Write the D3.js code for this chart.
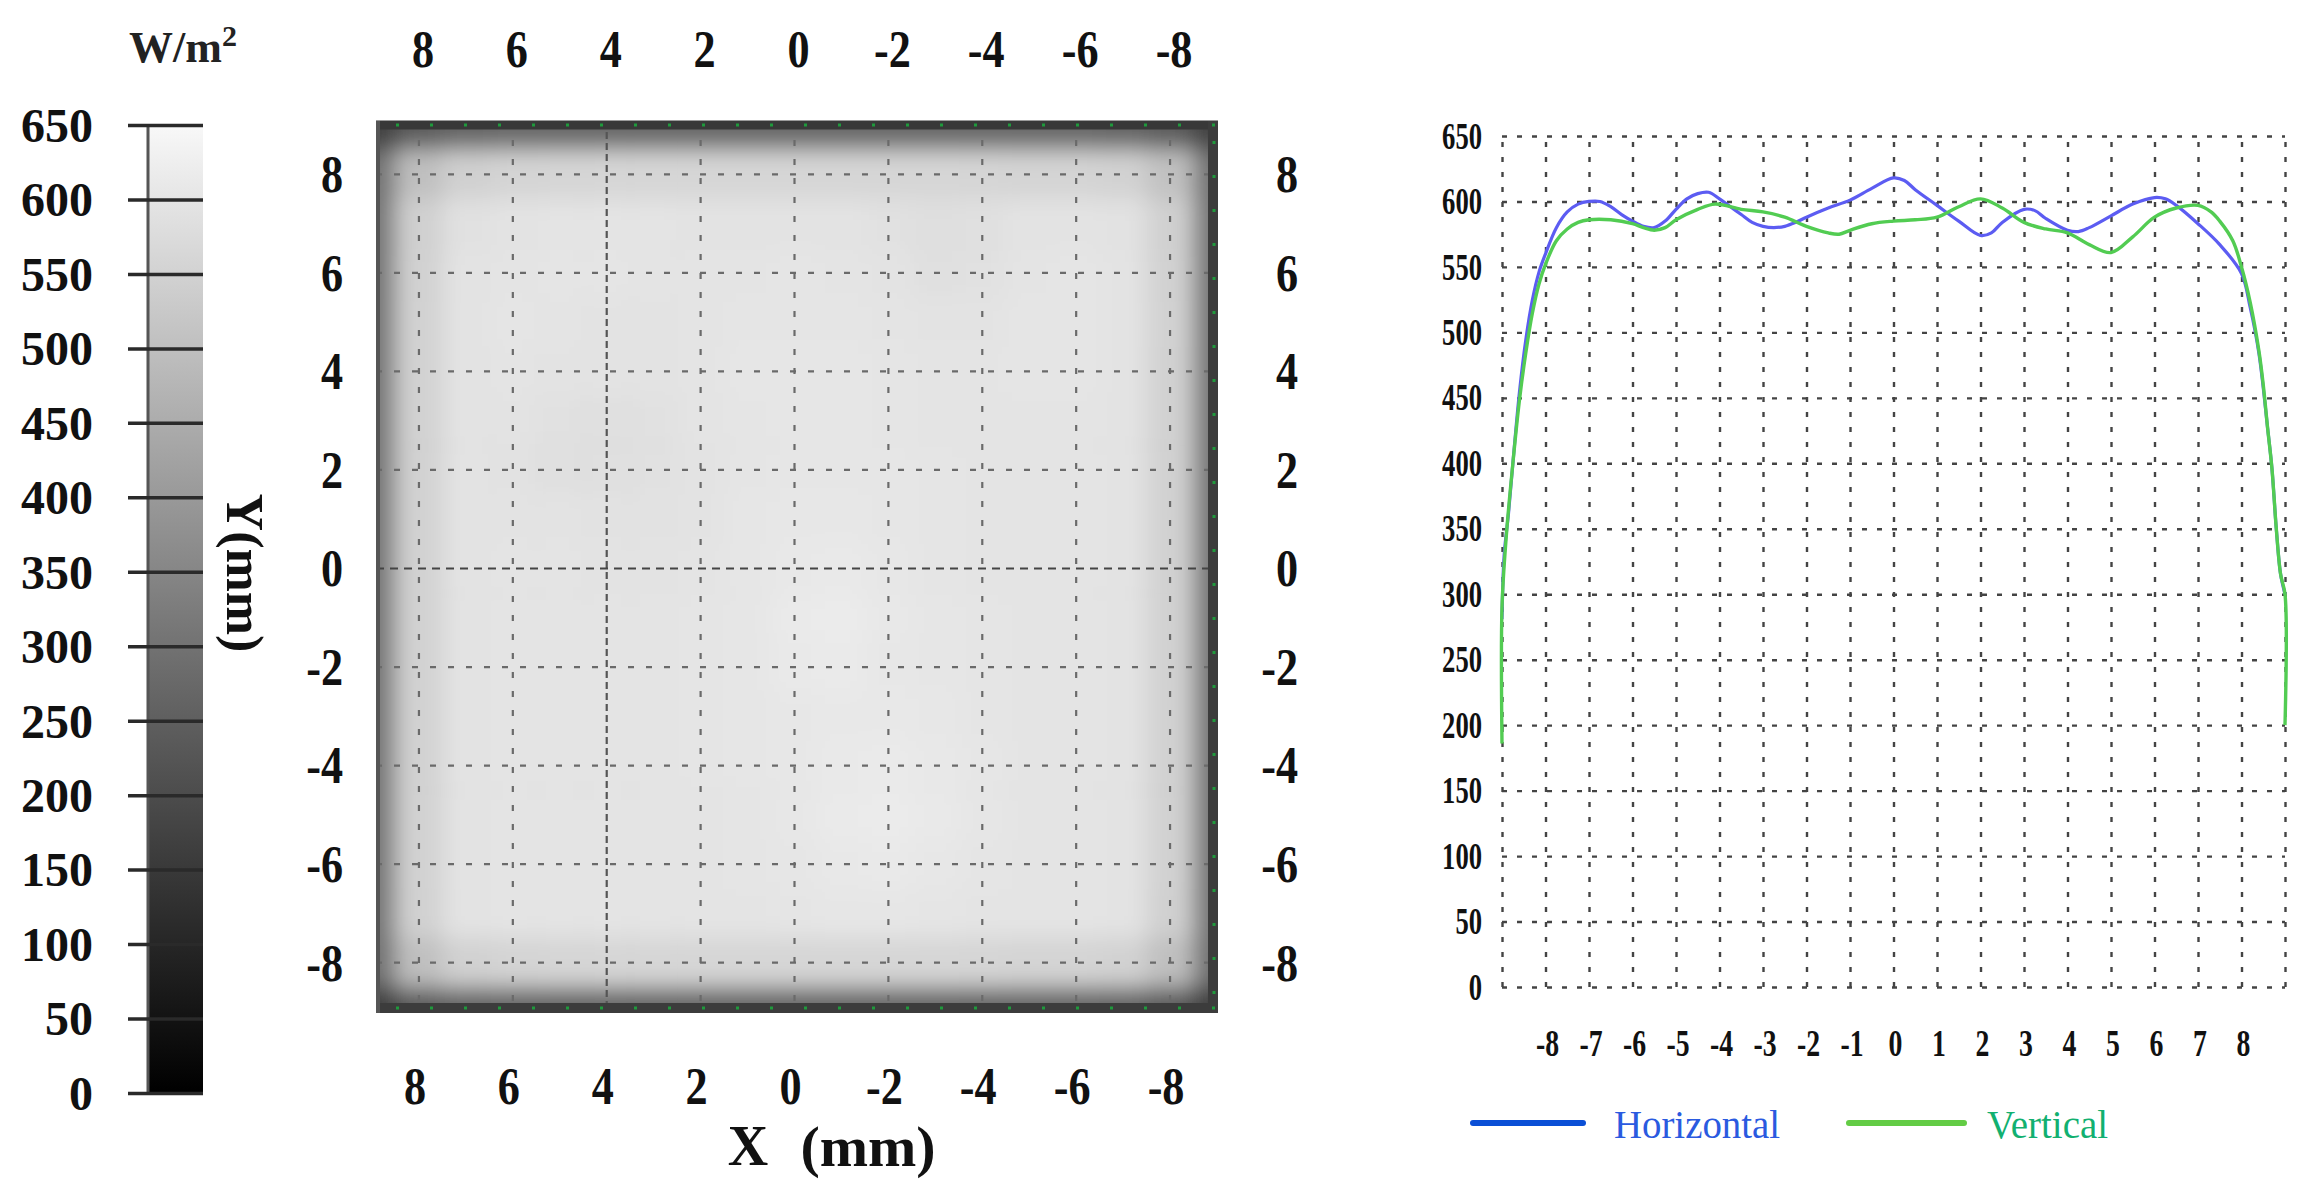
<!DOCTYPE html>
<html><head><meta charset="utf-8">
<script src="https://cdn.jsdelivr.net/npm/d3@7"></script>
<style>
html,body{margin:0;padding:0;background:#fff;}
svg{display:block;}
text{font-family:"Liberation Serif","Times New Roman",serif;}
</style></head><body>
<svg id="c" width="2316" height="1194"></svg>
<script>
// ---------------- DATA ----------------
const colorbarTicks = [0,50,100,150,200,250,300,350,400,450,500,550,600,650];
const mapTicks = [8,6,4,2,0,-2,-4,-6,-8];
// heat map sample points (mm), columns left->right, rows top->bottom
const heatX = [9,8,7,6,5,4,3,2,1,0,-1,-2,-3,-4,-5,-6,-7,-8,-9];
const heatY = [9,8,7,6,5,4,3,2,1,0,-1,-2,-3,-4,-5,-6,-7,-8,-9];
const heatRows = [
 [170,240,265,270,270,270,270,270,270,270,270,270,270,270,270,270,265,240,170],
 [300,500,545,555,558,560,560,560,560,560,560,560,560,558,556,555,550,505,300],
 [310,545,590,595,597,598,598,596,595,596,595,590,584,586,594,596,592,545,305],
 [310,548,594,598,600,600,598,597,598,600,598,594,588,590,597,600,595,548,305],
 [310,550,596,600,598,596,596,598,600,601,600,598,596,596,600,601,596,550,305],
 [310,550,596,598,596,594,595,598,602,603,602,600,598,598,600,600,595,548,305],
 [310,550,595,594,590,588,591,597,601,603,603,600,598,598,598,598,594,548,305],
 [310,550,595,593,588,588,589,594,600,604,604,602,600,598,597,597,594,548,305],
 [310,550,596,596,594,592,592,596,602,606,606,603,600,598,598,598,595,548,305],
 [310,550,596,598,598,596,596,598,602,608,610,605,600,598,598,598,596,548,305],
 [310,550,596,598,598,598,598,600,604,612,615,608,602,600,598,598,596,548,305],
 [310,550,596,598,598,598,598,600,604,610,612,606,602,600,598,598,596,548,305],
 [310,550,596,598,598,598,598,600,604,606,608,608,605,600,598,598,596,548,305],
 [310,550,596,598,598,598,598,600,602,606,610,614,608,602,598,598,596,548,305],
 [310,550,596,598,598,598,598,598,600,606,612,616,610,602,598,598,596,548,305],
 [310,550,596,598,598,598,598,598,600,604,608,610,606,600,598,598,596,548,305],
 [310,548,594,597,597,597,597,597,598,600,602,602,600,598,597,597,594,546,305],
 [295,500,548,556,558,560,560,560,560,560,560,560,560,558,556,555,550,500,290],
 [160,235,260,265,265,265,265,265,265,265,265,265,265,265,265,265,260,235,160]
];
const profileXTicks = [-8,-7,-6,-5,-4,-3,-2,-1,0,1,2,3,4,5,6,7,8];
const profileGridX = [-9,-8,-7,-6,-5,-4,-3,-2,-1,0,1,2,3,4,5,6,7,8,9];
const profileYTicks = [0,50,100,150,200,250,300,350,400,450,500,550,600,650];
const horizontalX = [-9,-8.95,-8.85,-8.75,-8.6,-8.45,-8.3,-8.15,-8,-7.75,-7.5,-7.25,-7,-6.75,-6.5,-6.25,-6,-5.75,-5.5,-5.25,-5,-4.75,-4.5,-4.25,-4,-3.75,-3.5,-3.25,-3,-2.75,-2.5,-2.25,-2,-1.5,-1,-0.5,0,0.25,0.5,1,1.5,2,2.25,2.5,3,3.25,3.5,4,4.25,4.5,5,5.5,6,6.25,6.5,7,7.5,8,8.2,8.4,8.6,8.7,8.8,8.9,9];
const horizontalY = [281,330,362,400,454,495,525,546,560,580,592,598,600,600,596,590,585,581,580,585,594,602,606,607,602,596,590,584,581,580,581,584,588,595,601,610,618,616,609,597,585,574,576,584,594,593,587,578,577,580,589,598,603,602,597,583,567,545,519,484,427,396,350,315,300];
const verticalX = [-9,-9,-8.9,-8.75,-8.6,-8.45,-8.3,-8.15,-8,-7.75,-7.5,-7.25,-7,-6.5,-6,-5.75,-5.5,-5.25,-5,-4.5,-4.1,-3.5,-3,-2.5,-2,-1.5,-1.25,-1,-0.5,0,0.5,1,1.5,2,2.5,3,3.5,4,4.5,5,5.5,6,6.5,7,7.3,7.5,7.8,8,8.2,8.4,8.5,8.6,8.7,8.8,8.9,9,9];
const verticalY = [186,290,345,400,448,485,515,537,552,570,579,584,586,586,583,580,578,580,586,594,598,594,592,588,581,576,575,578,583,585,586,588,596,602,595,584,579,576,567,561,573,588,595,597,592,585,570,550,523,486,460,427,396,350,315,300,200];
const seriesNames = ["Horizontal","Vertical"];

// ---------------- DRAW ----------------
const svg = d3.select("#c");
const defs = svg.append("defs");
const serif = '"Liberation Serif","Times New Roman",serif';

function label(x, y, txt, o) {
  o = o || {};
  return svg.append("text")
    .attr("transform", `translate(${x},${y}) scale(${o.sx||1},1)`)
    .attr("text-anchor", o.anchor || "middle")
    .attr("dominant-baseline", "central")
    .attr("font-size", o.size || 40)
    .attr("font-weight", o.weight || "bold")
    .attr("fill", o.fill || "#111")
    .text(txt);
}

// ---- colour bar ----
const cbY = d3.scaleLinear().domain([0,650]).range([1093,125]);
const gray = d3.scaleLinear().domain([0,650]).range(["#000000","#f8f8f8"]);
const grad = defs.append("linearGradient").attr("id","cbg")
  .attr("x1",0).attr("y1",1).attr("x2",0).attr("y2",0);
colorbarTicks.forEach(v => grad.append("stop").attr("offset", v/650).attr("stop-color", gray(v)));
svg.append("rect").attr("x",147).attr("y",cbY(650)).attr("width",56)
  .attr("height",cbY(0)-cbY(650)).attr("fill","url(#cbg)");
svg.append("line").attr("x1",148).attr("x2",148).attr("y1",cbY(650)).attr("y2",cbY(0))
  .attr("stroke","#555").attr("stroke-width",3);
const cbAxis = svg.append("g").attr("transform","translate(203,0)")
  .call(d3.axisLeft(cbY).tickValues(colorbarTicks).tickSize(75).tickPadding(35));
cbAxis.select(".domain").remove();
cbAxis.selectAll(".tick line").attr("stroke","#2a2a2a").attr("stroke-width",3.5);
cbAxis.selectAll(".tick text").attr("font-family",serif).attr("font-size",48)
  .attr("font-weight","bold").attr("fill","#111").attr("dy","0.34em");
const unit = svg.append("text").attr("x",183).attr("y",62).attr("text-anchor","middle")
  .attr("font-size",44).attr("fill","#222").attr("font-weight","bold");
unit.append("tspan").text("W/m");
unit.append("tspan").attr("font-size",30).attr("dy",-16).text("2");

// ---- heat map ----
const hx = d3.scaleLinear().domain([9,-9]).range([372,1217]);
const hy = d3.scaleLinear().domain([9,-9]).range([125,1012]);
const hmL = 376, hmR = 1218, hmT = 121, hmB = 1013;
defs.append("clipPath").attr("id","hmclip").append("rect")
  .attr("x",hmL).attr("y",hmT).attr("width",hmR-hmL).attr("height",hmB-hmT);
const blur = defs.append("filter").attr("id","hblur")
  .attr("x","-10%").attr("y","-10%").attr("width","120%").attr("height","120%");
blur.append("feGaussianBlur").attr("stdDeviation",11);
const hmOuter = svg.append("g").attr("clip-path","url(#hmclip)");
const hmG = hmOuter.append("g").attr("filter","url(#hblur)");
hmG.append("rect").attr("x",hmL-60).attr("y",hmT-60).attr("width",hmR-hmL+120)
  .attr("height",hmB-hmT+120).attr("fill","#3a3a3a");
heatRows.forEach((row, ri) => {
  row.forEach((v, ci) => {
    const x0 = hx(heatX[ci] + 0.5), x1 = hx(heatX[ci] - 0.5);
    const y0 = hy(heatY[ri] + 0.5), y1 = hy(heatY[ri] - 0.5);
    hmG.append("rect").attr("x", x0).attr("y", y0)
      .attr("width", x1 - x0 + 0.5).attr("height", y1 - y0 + 0.5).attr("fill", gray(v));
  });
});
// grid
const gridG = svg.append("g").attr("clip-path","url(#hmclip)");
mapTicks.forEach(v => {
  gridG.append("line").attr("x1",hx(v)).attr("x2",hx(v)).attr("y1",hmT).attr("y2",hmB)
    .attr("stroke", v===4 ? "#555" : "#6a6a6a").attr("stroke-width",2.2)
    .attr("stroke-dasharray", v===4 ? "7 4" : "6 13");
  gridG.append("line").attr("y1",hy(v)).attr("y2",hy(v)).attr("x1",hmL).attr("x2",hmR)
    .attr("stroke", v===0 ? "#444" : "#6a6a6a").attr("stroke-width",2.2)
    .attr("stroke-dasharray", v===0 ? "8 6" : "6 12");
});
// frame
svg.append("line").attr("x1",hmL).attr("x2",hmR).attr("y1",hmT+4).attr("y2",hmT+4).attr("stroke","#383838").attr("stroke-width",9);
svg.append("line").attr("x1",hmL).attr("x2",hmR).attr("y1",hmB-5).attr("y2",hmB-5).attr("stroke","#3c3c3c").attr("stroke-width",10);
svg.append("line").attr("x1",hmR-5).attr("x2",hmR-5).attr("y1",hmT).attr("y2",hmB).attr("stroke","#3c3c3c").attr("stroke-width",10);
svg.append("line").attr("x1",hmL+2).attr("x2",hmL+2).attr("y1",hmT).attr("y2",hmB).attr("stroke","#555").attr("stroke-width",4);
// green edge marks
[[hmL+20,hmT+4,hmR,hmT+4],[hmL+20,hmB-5,hmR,hmB-5],[hmR-4,hmT+20,hmR-4,hmB]].forEach(s => {
  svg.append("line").attr("x1",s[0]).attr("y1",s[1]).attr("x2",s[2]).attr("y2",s[3])
    .attr("stroke","#1f9a3c").attr("stroke-width",3).attr("stroke-dasharray","3 31");
});
// heat map labels
mapTicks.forEach(v => {
  label(hx(v) + 4, 49, String(v), {size:52, sx:0.85});
  label(hx(v) - 4, 1086, String(v), {size:52, sx:0.85});
  label(343, hy(v), String(v), {size:52, sx:0.85, anchor:"end"});
  label(1298, hy(v), String(v), {size:52, sx:0.85, anchor:"end"});
});
svg.append("text").attr("transform","translate(244,573) rotate(90)")
  .attr("text-anchor","middle").attr("dominant-baseline","central")
  .attr("font-size",52).attr("font-weight","bold").attr("fill","#111").text("Y(mm)");
label(748, 1146, "X", {size:56});
label(868, 1146, "(mm)", {size:58});

// ---- profile chart ----
const px = d3.scaleLinear().domain([-9,9]).range([1502,2285]);
const py = d3.scaleLinear().domain([0,650]).range([987,136]);
const pg = svg.append("g");
const gx = pg.append("g").attr("transform",`translate(0,${py(0)})`)
  .call(d3.axisBottom(px).tickValues(profileGridX).tickSize(-(py(0)-py(650))).tickFormat(""));
const gyy = pg.append("g").attr("transform",`translate(${px(-9)},0)`)
  .call(d3.axisLeft(py).tickValues(profileYTicks).tickSize(-(px(9)-px(-9))).tickFormat(""));
[gx, gyy].forEach(g => {
  g.select(".domain").remove();
  g.selectAll(".tick line").attr("stroke","#444").attr("stroke-width",2.4)
    .attr("stroke-dasharray","5 10");
});
profileYTicks.forEach(v => label(1482, py(v), String(v), {size:37, sx:0.72, anchor:"end"}));
profileXTicks.forEach(v => label(px(v) + 2, 1044, String(v), {size:37, sx:0.75}));

const lineGen = d3.line().curve(d3.curveCatmullRom.alpha(0.5));
pg.append("path").datum(horizontalX.map((x,i)=>[px(x), py(horizontalY[i])]))
  .attr("d", lineGen).attr("fill","none").attr("stroke","#5c5cf2").attr("stroke-width",3.2);
pg.append("path").datum(verticalX.map((x,i)=>[px(x), py(verticalY[i])]))
  .attr("d", lineGen).attr("fill","none").attr("stroke","#52cc52").attr("stroke-width",3.4);

// legend
svg.append("line").attr("x1",1473).attr("x2",1583).attr("y1",1123).attr("y2",1123)
  .attr("stroke","#0b4fd6").attr("stroke-width",6).attr("stroke-linecap","round");
svg.append("text").attr("x",1614).attr("y",1124).attr("dominant-baseline","central")
  .attr("font-size",40).attr("fill","#2a5ae0").attr("textLength",166)
  .attr("lengthAdjust","spacingAndGlyphs").text(seriesNames[0]);
svg.append("line").attr("x1",1849).attr("x2",1964).attr("y1",1123).attr("y2",1123)
  .attr("stroke","#63cc45").attr("stroke-width",6).attr("stroke-linecap","round");
svg.append("text").attr("x",1987).attr("y",1124).attr("dominant-baseline","central")
  .attr("font-size",40).attr("fill","#12b070").attr("textLength",121)
  .attr("lengthAdjust","spacingAndGlyphs").text(seriesNames[1]);
</script>
</body></html>
